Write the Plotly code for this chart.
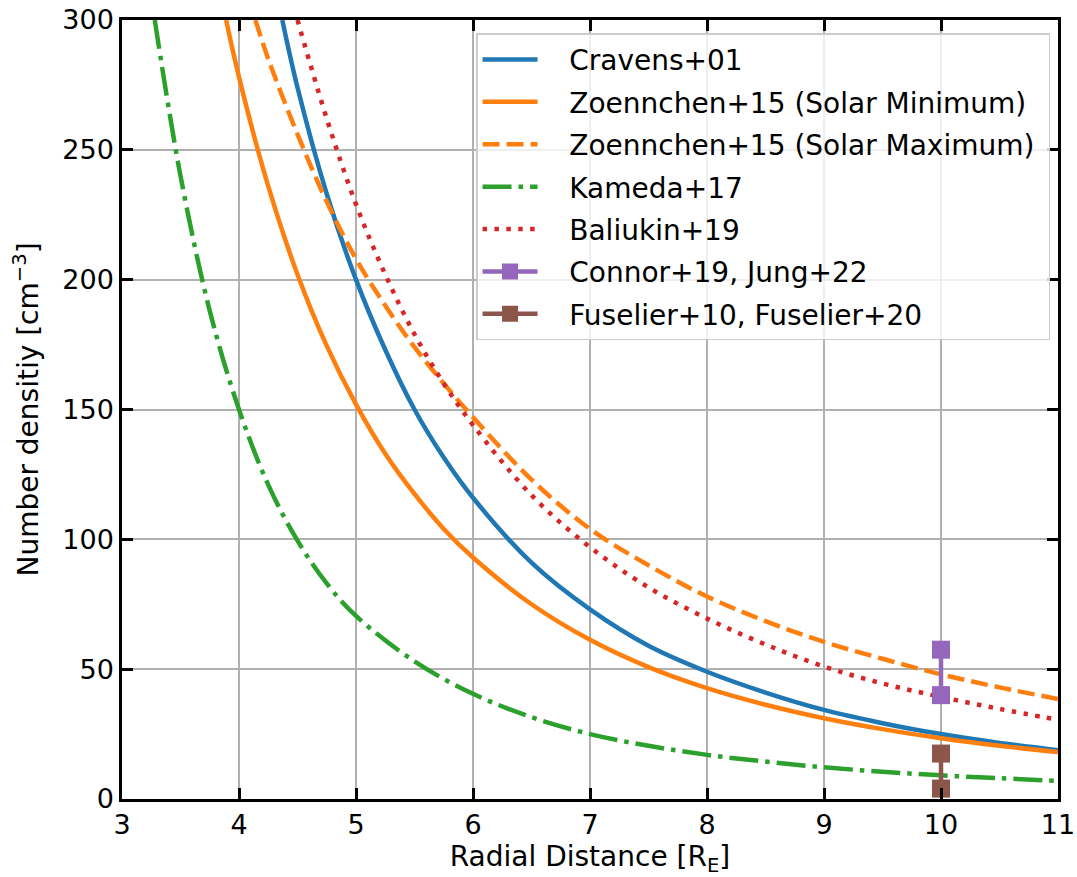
import plotly.graph_objects as go

# --- data ---
cravens_r = [4.37, 4.5, 4.75, 5.0, 5.25, 5.5, 5.75, 6.0, 6.5, 7.0, 7.5, 8.0, 8.5, 9.0, 9.5, 10.0, 10.5, 11.0]
cravens_n = [300, 274, 233, 200, 173, 150, 131.5, 116, 91, 73, 59, 49, 41, 34.3, 29.2, 25, 21.6, 18.8]

zmin_r = [3.89, 4.0, 4.25, 4.5, 4.75, 5.0, 5.25, 5.5, 5.75, 6.0, 6.5, 7.0, 7.5, 8.0, 8.5, 9.0, 9.5, 10.0, 10.5, 11.0]
zmin_n = [300, 278, 236, 202, 174.5, 152, 133, 117.5, 104, 93, 75, 61.3, 50.8, 42.7, 36.3, 31.1, 26.9, 23.4, 20.5, 18.1]

zmax_r = [4.14, 4.25, 4.5, 4.75, 5.0, 5.25, 5.5, 5.75, 6.0, 6.5, 7.0, 7.5, 8.0, 8.5, 9.0, 9.5, 10.0, 10.5, 11.0]
zmax_n = [300, 285, 256, 230, 208, 190, 174, 160, 147, 123, 104, 90, 78, 68.5, 60.5, 54, 48, 43, 38.5]

kam_r = [3.28, 3.5, 3.75, 4.0, 4.25, 4.5, 4.75, 5.0, 5.5, 6.0, 6.5, 7.0, 7.5, 8.0, 8.5, 9.0, 9.5, 10.0, 10.5, 11.0]
kam_n = [300, 240, 188, 150, 121, 99.5, 83, 70.5, 53, 40.5, 31.5, 25, 20.5, 17, 14.4, 12.2, 10.5, 9.1, 8, 7]

bal_r = [4.5, 4.75, 5.0, 5.25, 5.5, 5.75, 6.0, 6.5, 7.0, 7.5, 8.0, 8.5, 9.0, 9.5, 10.0, 10.5, 11.0]
bal_n = [300, 262, 229, 202, 179, 160, 144, 117, 97, 81.5, 69.5, 59.5, 51, 44.5, 39.3, 34.7, 30.5]

connor_r = [10, 10]
connor_n = [40, 57.5]

fus_r = [10, 10]
fus_n = [4, 17.5]

labels = ["Cravens+01", "Zoennchen+15 (Solar Minimum)", "Zoennchen+15 (Solar Maximum)",
          "Kameda+17", "Baliukin+19", "Connor+19, Jung+22", "Fuselier+10, Fuselier+20"]

PAD = "\u00a0\u00a0\u00a0"
TAIL = "\u00a0"
LW = 4.5
fig = go.Figure()


def add_line(x, y, i, color, dash=None):
    line = dict(color=color, width=LW, shape="spline")
    if dash:
        line["dash"] = dash
    fig.add_trace(go.Scatter(x=x, y=y, mode="lines", name=PAD + labels[i] + TAIL,
                             legendgroup="g%d" % i, line=line))


add_line(cravens_r, cravens_n, 0, "#1f77b4")
add_line(zmin_r, zmin_n, 1, "#ff7f0e")
add_line(zmax_r, zmax_n, 2, "#ff7f0e", "17px,7px")
add_line(kam_r, kam_n, 3, "#2ca02c", "29px,7px,4.5px,7px")
add_line(bal_r, bal_n, 4, "#d62728", "4.5px,7.4px")

fig.add_trace(go.Scatter(x=connor_r, y=connor_n, mode="lines+markers", name=PAD + labels[5] + TAIL,
                         legendgroup="g5",
                         line=dict(color="#9467bd", width=LW),
                         marker=dict(symbol="square", size=18, color="#9467bd")))
fig.add_trace(go.Scatter(x=fus_r, y=fus_n, mode="lines+markers", name=PAD + labels[6] + TAIL,
                         legendgroup="g6",
                         line=dict(color="#8c564b", width=LW),
                         marker=dict(symbol="square", size=18, color="#8c564b")))

axis_common = dict(
    showline=True, linecolor="black", linewidth=2.5, mirror="ticks",
    ticks="inside", ticklen=11, tickwidth=2.5, tickcolor="black",
    showgrid=True, gridcolor="#b0b0b0", gridwidth=2,
    zeroline=False, automargin=False,
    tickfont=dict(family="DejaVu Sans", size=27, color="black"),
)

fig.update_layout(
    width=1077, height=877,
    margin=dict(l=122, r=19, t=20, b=78),
    plot_bgcolor="white", paper_bgcolor="white",
    font=dict(family="DejaVu Sans", color="black"),
    xaxis=dict(range=[3, 11], dtick=1, tick0=3,
               title=dict(text="Radial Distance [R<sub>E</sub>]",
                          font=dict(family="DejaVu Sans", size=28), standoff=8),
               **axis_common),
    yaxis=dict(range=[0, 300], dtick=50, tick0=0,
               title=dict(text="Number densitiy [cm<sup>−3</sup>]",
                          font=dict(family="DejaVu Sans", size=28), standoff=16),
               **axis_common),
    legend=dict(x=0.9915, y=0.983, xanchor="right", yanchor="top",
                bgcolor="rgba(255,255,255,0.8)", bordercolor="#cccccc", borderwidth=1.5,
                font=dict(family="DejaVu Sans", size=28, color="black"),
                itemwidth=55, tracegroupgap=3, traceorder="grouped"),
    showlegend=True,
)

fig.write_html("out.html")
